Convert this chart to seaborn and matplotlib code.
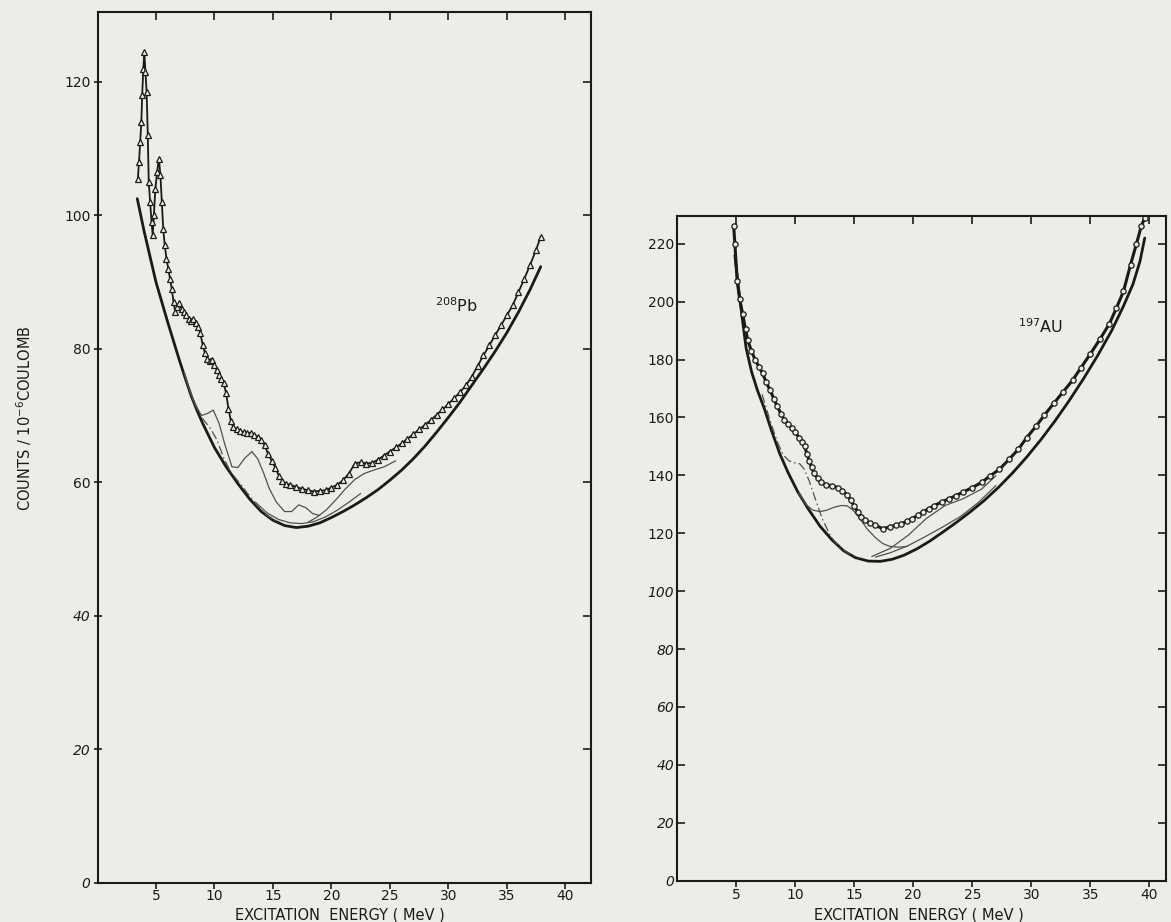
import matplotlib
matplotlib.use("Agg")
import matplotlib.pyplot as plt
import seaborn as sns

# ---------------- 208Pb panel ----------------
pb_data_x = [3.45,3.55,3.65,3.75,3.82,3.92,4.0,4.1,4.2,4.3,4.38,4.5,4.62,4.72,4.82,4.95,5.1,5.25,5.38,5.5,
             5.62,5.75,5.9,6.05,6.2,6.35,6.5,6.65,6.8,7.0,7.2,7.4,7.6,7.8,8.0,8.2,8.4,8.6,8.8,9.0,
             9.2,9.4,9.6,9.8,10.0,10.2,10.4,10.6,10.8,11.0,11.2,11.4,11.6,11.9,12.2,12.5,12.8,13.1,13.4,13.7,
             14.0,14.3,14.6,14.9,15.2,15.5,15.8,16.1,16.5,17.0,17.5,18.0,18.5,19.0,19.5,20.0,20.5,21.0,21.5,22.0,
             22.5,23.0,23.5,24.0,24.5,25.0,25.5,26.0,26.5,27.0,27.5,28.0,28.5,29.0,29.5,30.0,30.5,31.0,31.5,32.0,
             32.5,33.0,33.5,34.0,34.5,35.0,35.5,36.0,36.5,37.0,37.5,37.9]
pb_data_y = [105.5,108,111,114,118,122,124.5,121.5,118.5,112,105,102,99,97,100,104,106.5,108.5,106,102,
             98,95.5,93.5,92,90.5,89,87,85.5,86.2,86.8,86,85.5,85,84.5,84.2,84.5,83.8,83.3,82.3,80.5,
             79.3,78.5,78.2,78.3,77.6,76.8,76.1,75.5,74.8,73.3,71,69.2,68.3,67.9,67.6,67.5,67.3,67.4,67.1,66.8,
             66.3,65.5,64.2,63.2,62.2,61.0,60.2,59.8,59.6,59.3,59.0,58.8,58.6,58.7,58.8,59.2,59.6,60.3,61.3,62.8,
             63.0,62.8,62.9,63.4,64.0,64.6,65.2,65.8,66.5,67.2,67.9,68.6,69.3,70.1,70.9,71.7,72.6,73.5,74.5,75.8,
             77.4,79.0,80.5,82.0,83.5,85.0,86.5,88.5,90.5,92.6,94.8,96.8]

pb_bg_x = [3.4,4,5,6,7,7.5,8,8.5,9,10,11,12,13,14,15,16,17,18,19,20,21,22,23,24,25,26,27,28,29,30,31,32,33,34,35,36,37,37.9]
pb_bg_y = [102.5,97.5,90,84,78.3,75.6,73,70.8,68.8,65.2,62.3,59.8,57.5,55.6,54.3,53.5,53.2,53.4,53.9,
           54.7,55.6,56.6,57.7,58.9,60.3,61.8,63.5,65.4,67.5,69.7,72,74.5,77,79.6,82.4,85.5,88.9,92.3]

pb_c1_x = [7.4,8.2,9.0,9.6,10.2,10.8,11.4,12.0,12.8,13.6,14.5,15.5]
pb_c1_y = [76.5,72.3,69.5,68.2,66.4,63.6,61.5,60.2,58.4,56.6,55.0,54.0]
pb_c2_x = [7.4,7.9,8.4,8.9,9.4,9.9,10.4,10.9,11.5,12.0,12.6,13.2,13.7,14.2,14.7,15.3,16.0,16.6,17.2,17.8,18.4,19.0]
pb_c2_y = [76.5,73.6,71.4,70.0,70.3,70.8,68.8,65.6,62.3,62.2,63.6,64.6,63.5,61.4,59.0,57.0,55.6,55.6,56.6,56.2,55.3,55.0]
pb_c3_x = [18.0,18.8,19.6,20.4,21.2,22.0,22.8,23.6,24.5,25.5]
pb_c3_y = [54.0,54.8,55.9,57.4,59.0,60.4,61.3,61.8,62.3,63.2]
pb_c4_x = [13.5,14.5,15.5,16.5,17.5,18.5,19.5,20.5,21.5,22.5]
pb_c4_y = [57.0,55.4,54.4,53.9,53.8,54.1,54.8,55.8,57.0,58.3]

# ---------------- 197Au panel ----------------
au_data_x = [4.8,4.9,5.1,5.3,5.56,5.8,6.0,6.3,6.64,6.95,7.25,7.55,7.87,8.2,8.49,8.8,9.1,9.4,9.72,10.0,
             10.34,10.6,10.8,11.0,11.2,11.4,11.6,11.9,12.2,12.6,13.1,13.6,14.0,14.4,14.7,15.0,15.3,15.6,15.9,16.3,
             16.8,17.4,18.0,18.5,19.0,19.5,19.9,20.4,20.8,21.3,21.8,22.4,23.0,23.6,24.2,25.0,25.8,26.5,27.3,28.1,
             28.9,29.6,30.4,31.1,31.9,32.7,33.5,34.2,35.0,35.8,36.6,37.2,37.8,38.4,38.9,39.3,39.6]
au_data_y = [226,220,207,201,195.7,190.5,186.6,183,179.7,177.5,175.2,172.2,169.5,166.5,163.8,161.3,159.2,157.7,156.4,155,
             153,151.5,150.1,147.5,145,142.8,140.8,139,137.6,136.8,136.4,135.8,134.7,133.3,131.5,129.5,127.3,125.8,124.5,123.5,
             122.8,121.6,122.2,122.8,123.3,124.2,125.1,126.2,127.3,128.5,129.6,130.8,131.9,133,134.2,135.8,137.6,139.8,142.1,145.5,
             149,153,157,160.8,164.9,168.9,172.9,177.2,182,187,192.3,197.8,203.6,212.8,220,226,229]

au_bg_x = [4.9,5.2,5.5,5.85,6.3,6.8,7.4,8.0,8.7,9.4,10.2,11.1,12.1,13.1,14.1,15.1,16.2,17.2,18.2,19.2,
           20.3,21.4,22.5,23.6,24.8,26.0,27.2,28.4,29.6,30.8,32.0,33.2,34.4,35.6,36.8,37.8,38.6,39.2,39.6]
au_bg_y = [216,205,195,184,176,169.5,163,155.5,147.5,141,134.5,128.5,122.5,117.8,114,111.6,110.4,110.3,111,112.4,
           114.6,117.3,120.4,123.6,127.3,131.3,135.8,140.8,146.3,152.3,158.8,165.8,173.3,181.3,190,198.5,206,214,222]

au_c1_x = [7.2,7.8,8.5,9.0,9.5,10.0,10.4,10.8,11.2,11.7,12.3,13.0,13.8,14.6,15.4]
au_c1_y = [168,160,151.5,147,145,144.3,144,142,138,132,125,119,115,113,111.3]
au_c2_x = [10.3,10.9,11.5,12.1,12.7,13.3,13.9,14.4,14.9,15.5,16.1,16.8,17.4,18.0,18.7,19.5]
au_c2_y = [134,130,128,127.5,128,129,129.6,129.5,128,125,121.5,118.5,116.5,115.5,115.2,115.5]
au_c3_x = [16.5,18.06,19.6,21.1,22.7,24.2,25.8,27.0]
au_c3_y = [112,114.8,119.4,125.1,129.6,131.9,135.3,139.9]
au_c4_x = [16.8,18.0,19.5,21.0,22.5,24.0,25.5,27.0]
au_c4_y = [111.8,113.2,115.6,118.8,122.2,125.8,130.6,136.5]

x_ticks = [5, 10, 15, 20, 25, 30, 35, 40]
pb_y_ticks = [0, 20, 40, 60, 80, 100, 120]
au_y_ticks = [0, 20, 40, 60, 80, 100, 120, 140, 160, 180, 200, 220]
pb_italic = {"0", "20", "40"}
au_italic = {"0", "20", "40", "60", "80", "100"}

# ---------------- style ----------------
sns.set_theme(style="ticks")
plt.rcParams['font.family'] = ['DejaVu Sans']
paper = '#ededE7'
ink = '#1a1a1a'
thin = '#505050'

AU_YMAX = 229.5
fig = plt.figure(figsize=(11.71, 9.22), dpi=100, facecolor=paper)
ax1 = fig.add_axes([97.5/1171, 1-882.5/922, 493.5/1171, 870/922])
ax2 = fig.add_axes([677/1171, 1-880.7/922, 489/1171, AU_YMAX*2.895/922])


def style_axes(ax, xmax, ymax, yticks, italics, left_dir):
    ax.set_facecolor(paper)
    ax.set_xlim(0, xmax)
    ax.set_ylim(0, ymax)
    for s in ax.spines.values():
        s.set_visible(True)
        s.set_linewidth(1.5)
        s.set_color(ink)
    ax.set_xticks(x_ticks)
    ax.set_xticklabels([str(t) for t in x_ticks])
    ax.set_yticks(yticks)
    ax.set_yticklabels([str(t) for t in yticks])
    for lbl in ax.get_yticklabels():
        if lbl.get_text() in italics:
            lbl.set_style('italic')
    ax.tick_params(axis='x', direction='out', length=4, width=1.2, colors=ink,
                   labelsize=10, pad=1, labelcolor=ink)
    ax.tick_params(axis='y', direction=left_dir, length=6, width=1.2, colors=ink,
                   labelsize=10, pad=2, labelcolor=ink)
    top = ax.secondary_xaxis('top')
    top.set_xticks(x_ticks)
    top.set_xticklabels([])
    top.tick_params(direction='in', length=6, width=1.2, colors=ink)
    right = ax.secondary_yaxis('right')
    right.set_yticks(yticks)
    right.set_yticklabels([])
    right.tick_params(direction='in', length=6, width=1.2, colors=ink)
    ax.set_xlabel('')
    ax.set_ylabel('')


def draw_panel(ax, dx, dy, bx, by, comps, dashdot, marker, msize, lw_data):
    sns.lineplot(x=bx, y=by, ax=ax, color=ink, lw=2.0, sort=False, estimator=None)
    sns.lineplot(x=dashdot[0], y=dashdot[1], ax=ax, color=thin, lw=0.9, sort=False,
                 estimator=None, linestyle=(0, (7, 2.5, 1.2, 2.5)))
    for cx, cy in comps:
        sns.lineplot(x=cx, y=cy, ax=ax, color=thin, lw=0.9, sort=False, estimator=None)
    sns.lineplot(x=dx, y=dy, ax=ax, color=ink, lw=lw_data, sort=False, estimator=None,
                 marker=marker, markersize=msize, markerfacecolor=paper,
                 markeredgecolor=ink, markeredgewidth=0.9, clip_on=False)


draw_panel(ax1, pb_data_x, pb_data_y, pb_bg_x, pb_bg_y,
           [(pb_c2_x, pb_c2_y), (pb_c3_x, pb_c3_y), (pb_c4_x, pb_c4_y)],
           (pb_c1_x, pb_c1_y), '^', 4.2, 1.3)
draw_panel(ax2, au_data_x, au_data_y, au_bg_x, au_bg_y,
           [(au_c2_x, au_c2_y), (au_c3_x, au_c3_y), (au_c4_x, au_c4_y)],
           (au_c1_x, au_c1_y), 'o', 3.8, 2.2)

style_axes(ax1, 42.2, 130.4, pb_y_ticks, pb_italic, 'inout')
style_axes(ax2, 41.4, AU_YMAX, au_y_ticks, au_italic, 'in')

ax1.text(28.9, 86.5, r'$^{208}$Pb', fontsize=11.5, color=ink, va='center', ha='left')
ax2.text(28.9, 191.5, r'$^{197}$AU', fontsize=11.5, color=ink, va='center', ha='left')

fig.text(0.021, 0.547, r'COUNTS / 10$^{-6}$COULOMB', rotation=90, fontsize=10.5,
         color=ink, ha='center', va='center')
fig.text(340/1171, 1-914.5/922, 'EXCITATION  ENERGY ( MeV )', fontsize=10.5, color=ink,
         ha='center', va='center')
fig.text(919/1171, 1-914.5/922, 'EXCITATION  ENERGY ( MeV )', fontsize=10.5, color=ink,
         ha='center', va='center')

fig.savefig('out.png', dpi=100, facecolor=paper)
